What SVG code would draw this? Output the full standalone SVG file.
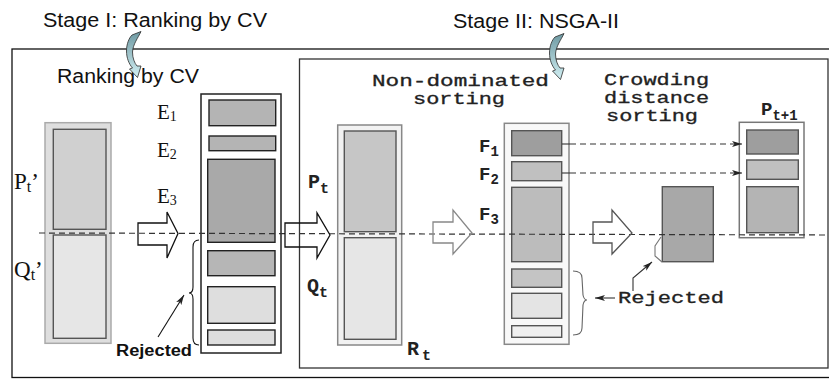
<svg xmlns="http://www.w3.org/2000/svg" width="829" height="379" viewBox="0 0 829 379">
<style>
.frame{fill:#fff;stroke:#111;stroke-width:1.3}
.sans{font-family:"Liberation Sans",Arial,sans-serif;fill:#111}
.serif{font-family:"Liberation Serif","Times New Roman",serif;fill:#111}
.mono{font-family:"Liberation Mono","Courier New",monospace;fill:#222;stroke:#222;stroke-width:0.3;font-size:16px}
.monob{font-family:"Liberation Mono","Courier New",monospace;font-weight:bold;fill:#222}
.cell{stroke:#555;stroke-width:1.4}
.cellk{stroke:#222;stroke-width:1.4}
.hollow{fill:none;stroke-width:1.3;stroke-linejoin:miter}
.dash{fill:none;stroke:#333;stroke-width:1.2;stroke-dasharray:6 4}
.thin{fill:none;stroke-width:1.1}
</style>
<defs>
<linearGradient id="cg" x1="0" y1="0" x2="0" y2="1">
<stop offset="0" stop-color="#6d98a1"/>
<stop offset="1" stop-color="#d2f0f4"/>
</linearGradient>
<marker id="ah" viewBox="0 0 10 6" refX="10" refY="3" markerWidth="10" markerHeight="6" markerUnits="userSpaceOnUse" orient="auto">
<path d="M0,0 L10,3 L0,6 L2.5,3 Z" fill="#222"/>
</marker>
<path id="curl" d="M132,35 L141,31.5 C138,38 133,44 132.5,52 C132.5,58 134.5,63 137,66 L141,66 L137.5,77.5 L129.5,69 L132.5,68 C129,64 126.5,58 126.5,51 C126.5,44 129,38 132,35 Z" fill="url(#cg)" stroke="#2a2a2a" stroke-width="0.8"/>
</defs>
<rect width="829" height="379" fill="#fff"/>

<g id="stage1-frame">
<rect class="frame" x="12" y="49" width="830" height="328.5"/>
<text class="sans" x="43" y="27" font-size="20" textLength="224" lengthAdjust="spacingAndGlyphs">Stage I: Ranking by CV</text>
<text class="sans" x="57" y="83" font-size="20" textLength="142" lengthAdjust="spacingAndGlyphs">Ranking by CV</text>
</g>

<g id="stage2-frame">
<rect class="frame" x="299.5" y="59" width="528.5" height="309" style="stroke:#333"/>
<text class="sans" x="453" y="28" font-size="20" textLength="166" lengthAdjust="spacingAndGlyphs">Stage II: NSGA-II</text>
</g>

<g id="pq-prime">
<rect x="45" y="122.7" width="66" height="220.6" fill="#dedede" stroke="#aaa" stroke-width="1.5"/>
<rect class="cell" x="53.3" y="129.3" width="52.7" height="100" fill="#d0d0d0"/>
<rect class="cell" x="53.3" y="235" width="52.7" height="103.3" fill="#e6e6e6"/>
<text class="serif" x="14" y="188.5" font-size="23">P<tspan font-size="16" dy="3">t</tspan><tspan dy="-3">’</tspan></text>
<text class="serif" x="14" y="277" font-size="23">Q<tspan font-size="16" dy="3">t</tspan><tspan dy="-3">’</tspan></text>
</g>

<g id="e-ranking">
<rect x="201" y="94" width="80" height="259" fill="#fff" stroke="#222" stroke-width="1.5"/>
<rect class="cellk" x="209" y="100" width="66.7" height="25.7" fill="#b4b4b4"/>
<rect class="cellk" x="209" y="136" width="66.7" height="14.7" fill="#b4b4b4"/>
<rect class="cellk" x="207.7" y="159.3" width="67.3" height="83" fill="#a9a9a9"/>
<rect class="cellk" x="207.7" y="250.7" width="67.3" height="25" fill="#b6b6b6"/>
<rect class="cellk" x="207.7" y="286.7" width="67.3" height="36.6" fill="#dedede"/>
<rect class="cellk" x="207.7" y="330" width="67.3" height="15" fill="#dedede"/>
<text class="serif" x="157" y="119" font-size="21">E<tspan font-size="14" dy="2">1</tspan></text>
<text class="serif" x="157" y="157" font-size="21">E<tspan font-size="14" dy="2">2</tspan></text>
<text class="serif" x="157" y="203" font-size="21">E<tspan font-size="14" dy="2">3</tspan></text>
<text class="sans" x="116" y="355.5" font-size="16" font-weight="bold" textLength="76" lengthAdjust="spacingAndGlyphs">Rejected</text>
</g>

<g id="rt-column">
<rect x="337.7" y="125" width="64" height="220" fill="#f2f2f2" stroke="#888" stroke-width="1.5"/>
<rect class="cell" x="344.3" y="131" width="51.7" height="100.7" fill="#c6c6c6"/>
<rect class="cell" x="344.3" y="237.7" width="51.7" height="101.6" fill="#e6e6e6"/>
<text class="monob" x="308" y="188" font-size="20">P<tspan font-size="15" dy="5">t</tspan></text>
<text class="monob" x="307" y="291.5" font-size="20">Q<tspan font-size="15" dy="5">t</tspan></text>
<text class="monob" x="407" y="355" font-size="20">R<tspan font-size="15" dx="3" dy="5">t</tspan></text>
</g>

<g id="nd-sorting">
<text class="mono" x="372" y="86" textLength="177" lengthAdjust="spacingAndGlyphs">Non-dominated</text>
<text class="mono" x="413" y="104" textLength="92" lengthAdjust="spacingAndGlyphs">sorting</text>
<rect x="504.3" y="123.3" width="64.7" height="221" fill="#f8f8f8" stroke="#888" stroke-width="1.5"/>
<rect class="cell" x="511.7" y="130.7" width="50" height="25" fill="#9e9e9e"/>
<rect class="cell" x="511.7" y="161.7" width="50" height="19" fill="#c0c0c0"/>
<rect class="cell" x="511.7" y="187.3" width="50" height="74.4" fill="#bcbcbc"/>
<rect class="cell" x="511.7" y="269" width="50" height="18.3" fill="#c4c4c4"/>
<rect class="cell" x="511.7" y="293.3" width="50" height="25" fill="#e4e4e4"/>
<rect class="cell" x="511.7" y="325.7" width="50" height="11.6" fill="#f0f0f0"/>
<text class="monob" x="479" y="152" font-size="19">F<tspan font-size="14" dy="4">1</tspan></text>
<text class="monob" x="479" y="180" font-size="19">F<tspan font-size="14" dy="4">2</tspan></text>
<text class="monob" x="479" y="220" font-size="19">F<tspan font-size="14" dy="4">3</tspan></text>
</g>

<g id="crowding">
<text class="mono" x="604" y="85" textLength="105" lengthAdjust="spacingAndGlyphs">Crowding</text>
<text class="mono" x="604" y="103" textLength="105" lengthAdjust="spacingAndGlyphs">distance</text>
<text class="mono" x="606" y="121" textLength="92" lengthAdjust="spacingAndGlyphs">sorting</text>
<rect class="cell" x="662.3" y="186.7" width="51" height="75" fill="#a8a8a8"/>
<text class="mono" x="618" y="303" textLength="106" lengthAdjust="spacingAndGlyphs">Rejected</text>
</g>

<g id="p-next">
<rect x="739.3" y="122.3" width="64.7" height="115.4" fill="#fff" stroke="#777" stroke-width="1.5"/>
<rect class="cell" x="746.7" y="130" width="51.6" height="24" fill="#9e9e9e"/>
<rect class="cell" x="746.7" y="160" width="51.6" height="19.3" fill="#c0c0c0"/>
<rect class="cell" x="746.7" y="186.7" width="51.6" height="46" fill="#b4b4b4"/>
<text class="monob" x="761" y="115" font-size="19">P<tspan font-size="14" dy="5">t+1</tspan></text>
</g>

<g id="connectors">
<path class="dash" d="M39,233 L828,235"/>
<path class="hollow" stroke="#111" d="M138,223 L167,223 L167,212 L178,233.5 L167,258 L167,245 L138,245 Z"/>
<path class="hollow" stroke="#111" d="M285,223 L317,223 L317,213 L330,235 L317,258 L317,247 L285,247 Z"/>
<path class="hollow" stroke="#888" d="M433,222 L453,222 L453,210 L472,233 L453,254 L453,243 L433,243 Z"/>
<path class="hollow" stroke="#555" d="M593,222 L612,222 L612,210 L632,233 L612,254 L612,243 L593,243 Z"/>
<path class="thin" stroke="#333" d="M562,144 H570"/>
<path class="thin" stroke="#333" d="M562,173 H570"/>
<path class="dash" d="M570,144 H742" marker-end="url(#ah)"/>
<path class="dash" d="M570,173 H742" marker-end="url(#ah)"/>
<path class="thin" stroke="#111" d="M199,240 Q193,240 193,247 L193,287 Q193,293 189,293 Q193,293 193,299 L193,338 Q193,345 199,345"/>
<path class="thin" stroke="#111" d="M158,337 L184,295" marker-end="url(#ah)"/>
<path class="thin" stroke="#666" d="M573,271 Q582,271 582,278 L583,295 Q584,300 587,300 Q584,300 583,305 L582,328 Q582,335 573,335"/>
<path class="thin" stroke="#777" d="M661,237 L655,246 L655,256 L662,262"/>
<path class="thin" stroke="#333" d="M633,291 L633,278 L652,262" marker-end="url(#ah)"/>
<path class="thin" stroke="#333" d="M615,298 L595,298" marker-end="url(#ah)"/>
<use href="#curl"/>
<use href="#curl" transform="translate(423,2)"/>
</g>
</svg>
